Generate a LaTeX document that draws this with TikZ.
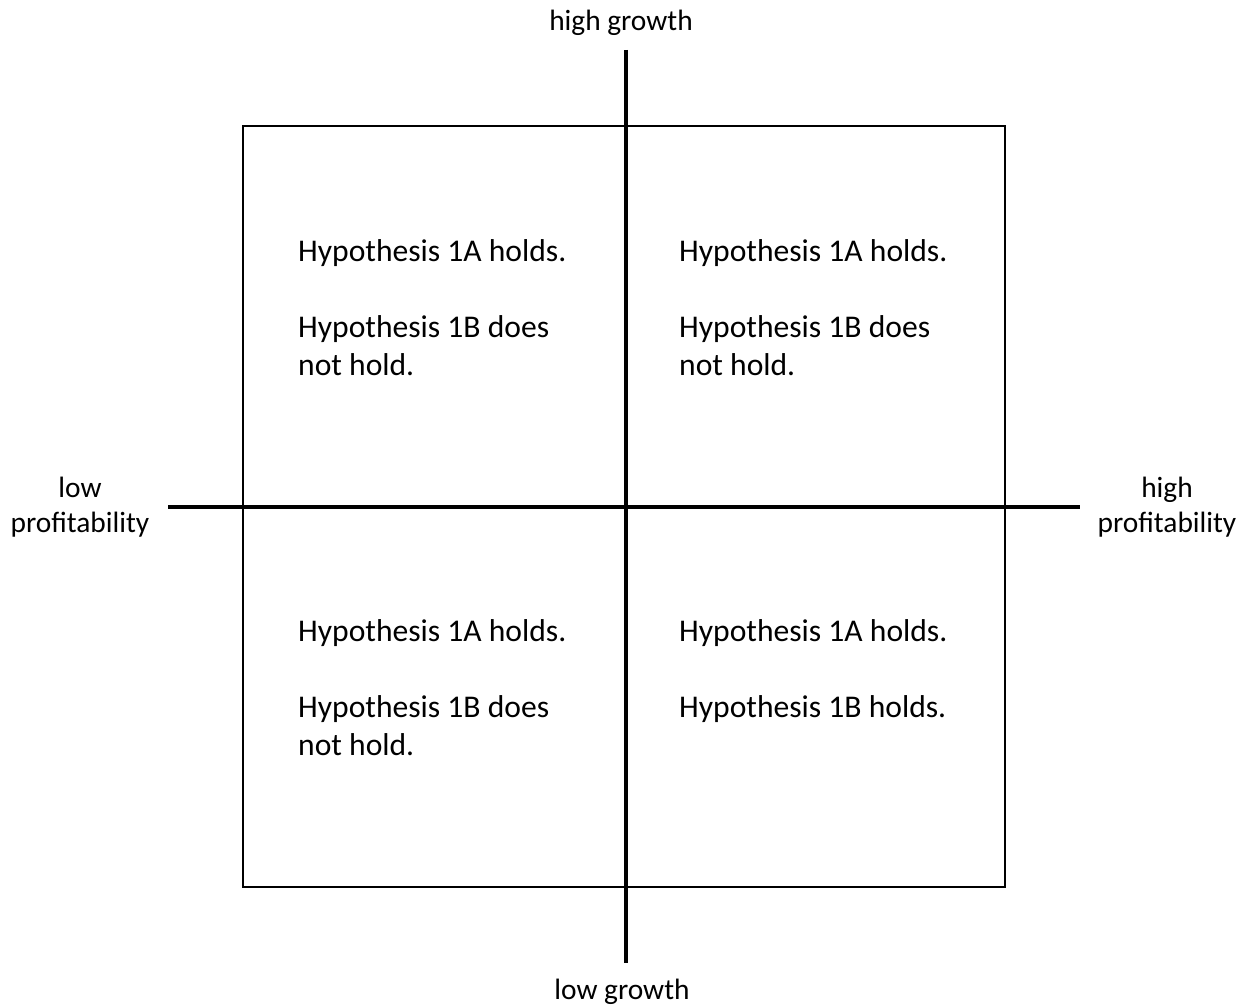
\documentclass[tikz,border=0pt]{standalone}
\usepackage{fontspec}
\setmainfont{Carlito}
\tikzset{
  quad/.style={anchor=base west,align=left,inner sep=0pt,
    font=\fontsize{31.6}{38}\selectfont},
  axislabel/.style={align=center,inner sep=0pt,
    font=\fontsize{29.4}{35}\selectfont},
  axis/.style={line width=3.5pt},
}
\begin{document}
\begin{tikzpicture}[x=1pt,y=-1pt]
	\useasboundingbox (0,0) rectangle (1248,1006);
	% frame
	\coordinate (nw) at (243,126);
	\coordinate (se) at (1005,887);
	\draw[line width=2pt] (nw) rectangle (se);
	% axes
	\coordinate (top) at (626,50);
	\coordinate (bottom) at (626,963);
	\coordinate (left) at (168,507);
	\coordinate (right) at (1080,507);
	\draw[axis] (top) -- (bottom);
	\draw[axis] (left) -- (right);
	% axis labels
	\node[axislabel,anchor=base] (hg) at (621,31) {high growth};
	\node[axislabel,anchor=base] (lg) at (622,999) {low growth};
	\node[axislabel] (lp) at (80,507) {low\\profitability};
	\node[axislabel] (hp) at (1167,507) {high\\profitability};
	% quadrants (anchored at the last line)
	\node[quad] (q1) at (298,375) {Hypothesis 1A holds.\\[38pt]Hypothesis 1B does\\not hold.};
	\node[quad] (q2) at (679,375) {Hypothesis 1A holds.\\[38pt]Hypothesis 1B does\\not hold.};
	\node[quad] (q3) at (298,755) {Hypothesis 1A holds.\\[38pt]Hypothesis 1B does\\not hold.};
	\node[quad] (q4) at (679,717) {Hypothesis 1A holds.\\[38pt]Hypothesis 1B holds.};
\end{tikzpicture}
\end{document}
